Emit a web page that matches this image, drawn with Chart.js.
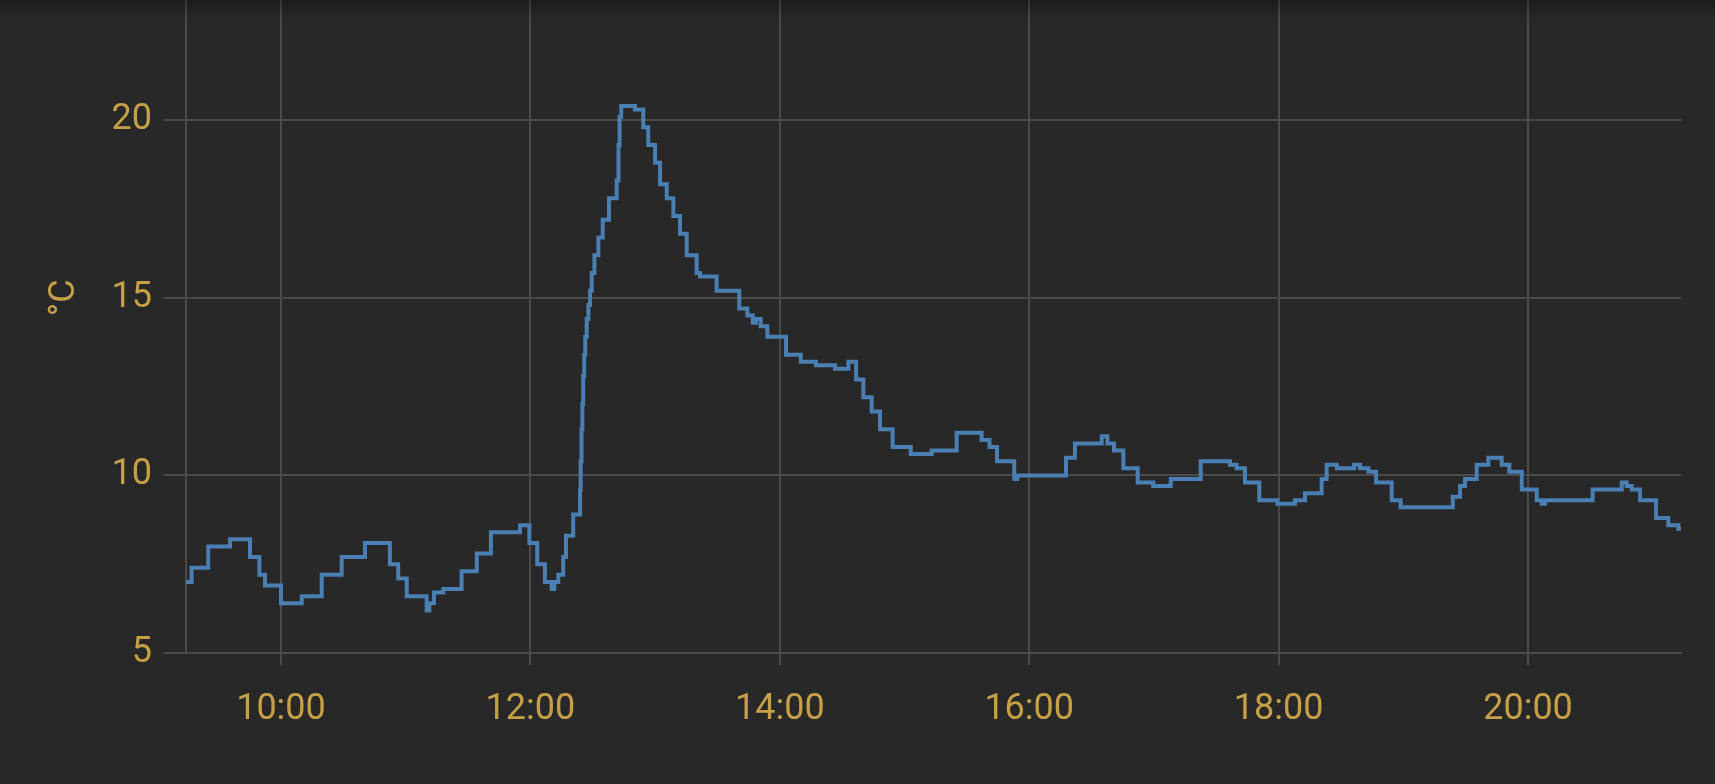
<!DOCTYPE html>
<html>
<head>
<meta charset="utf-8">
<script src="https://cdn.jsdelivr.net/npm/chart.js@4.4.1/dist/chart.umd.min.js"></script>
<style>
html,body{margin:0;padding:0;background:#282828;width:1715px;height:784px;overflow:hidden;}
#wrap{position:absolute;left:0;top:-80px;width:1715px;}
#shade{position:absolute;left:0;top:0;width:1715px;height:18px;background:linear-gradient(rgba(0,0,0,0.3),rgba(0,0,0,0));pointer-events:none;}
</style>
</head>
<body>
<div id="wrap"></div>
<div id="shade"></div>
<script>
// time in minutes since midnight (start of each stepped level)
const times = [554.3,557.0,565.0,575.5,585.1,589.6,592.3,600.0,610.0,619.6,
629.2,640.4,652.4,656.4,660.5,670.1,671.4,673.6,678.1,686.9,
694.2,701.0,715.0,719.5,723.3,727.0,730.2,731.5,733.4,735.8,
737.1,740.6,743.9,744.2,744.6,745.0,745.4,745.9,746.4,747.1,
747.9,748.7,749.5,750.8,752.7,754.8,757.8,761.5,762.4,762.9,
763.7,770.3,774.3,776.7,780.0,782.4,785.6,788.8,792.0,795.2,
800.0,801.6,809.6,820.5,824.4,827.0,828.5,830.8,834.0,843.0,
850.1,857.4,866.6,873.0,876.7,880.2,884.2,888.2,894.3,903.0,
913.1,925.1,937.1,940.9,944.5,952.8,954.3,977.7,982.0,994.9,
997.6,1000.8,1005.3,1012.2,1019.7,1028.1,1042.5,1056.6,1059.8,1063.8,
1070.7,1079.4,1087.9,1092.7,1100.7,1103.1,1108.0,1116.3,1119.2,1123.2,
1126.9,1134.4,1138.7,1163.8,1167.3,1169.7,1175.3,1180.9,1187.3,1191.0,
1197.0,1204.2,1206.6,1208.2,1231.1,1245.1,1247.5,1249.9,1253.9,1261.6,
1267.5,1272.3,1273.6];
// temperature °C
const temps = [7.0,7.4,8.0,8.2,7.7,7.2,6.9,6.4,6.6,7.2,
7.7,8.1,7.5,7.1,6.6,6.2,6.4,6.7,6.8,7.3,
7.8,8.4,8.6,8.1,7.5,7.0,6.8,7.0,7.2,7.7,
8.3,8.9,9.6,10.4,11.3,12.0,12.8,13.4,13.9,14.4,
14.8,15.2,15.7,16.2,16.7,17.2,17.8,18.3,19.3,20.1,
20.4,20.3,19.8,19.3,18.8,18.2,17.8,17.3,16.8,16.2,
15.7,15.6,15.2,14.7,14.5,14.3,14.4,14.2,13.9,13.4,
13.2,13.1,13.0,13.2,12.7,12.2,11.8,11.3,10.8,10.6,
10.7,11.2,11.0,10.8,10.4,9.9,10.0,10.5,10.9,11.1,
10.9,10.7,10.2,9.8,9.7,9.9,10.4,10.3,10.2,9.8,
9.3,9.2,9.3,9.5,9.9,10.3,10.2,10.3,10.2,10.1,
9.8,9.3,9.1,9.4,9.7,9.9,10.3,10.5,10.3,10.1,
9.6,9.3,9.2,9.3,9.6,9.8,9.7,9.6,9.3,8.8,
8.6,8.5,8.5];
const xTicks = [600, 720, 840, 960, 1080, 1200];
const yTicks = [5, 10, 15, 20, 25];
const xRange = [554.3, 1273.6];
const yRange = [5, 25];
const yTitle = '°C';

const TEXT = '#c6a047';
const GRID = '#4b4b4b';
const LINE = '#4a7fb3';
Chart.defaults.font.family = 'Roboto';
Chart.defaults.font.size = 36;
Chart.defaults.color = TEXT;

function fmt(v){ const h = Math.floor(v/60), m = Math.round(v%60); return h + ':' + String(m).padStart(2,'0'); }

function config(){
  return {
    type: 'line',
    data: {
      datasets: [{
        data: times.map((t,i)=>({x:t, y:temps[i]})),
        borderColor: LINE,
        borderWidth: 4,
        pointRadius: 0,
        fill: false,
        stepped: true,
        tension: 0
      }]
    },
    options: {
      responsive: false,
      animation: false,
      events: [],
      layout: { padding: { left: 0, right: 34, top: 0, bottom: 0 } },
      plugins: { legend: { display: false }, tooltip: { enabled: false } },
      scales: {
        x: {
          type: 'linear',
          min: xRange[0], max: xRange[1],
          afterBuildTicks: a => { a.ticks = xTicks.map(v=>({value:v})); },
          afterFit: s => { s.height = 131; },
          grid: { color: GRID, lineWidth: 2, tickLength: 12, drawTicks: true },
          border: { display: true, color: GRID, width: 2 },
          ticks: { color: TEXT, padding: 23, maxRotation: 0, autoSkip: false, callback: v => fmt(v), font: { size: 36 } }
        },
        y: {
          type: 'linear',
          min: yRange[0], max: yRange[1],
          afterBuildTicks: a => { a.ticks = yTicks.map(v=>({value:v})); },
          afterFit: s => { s.width = 186; },
          grid: { color: GRID, lineWidth: 2, tickLength: 22, drawTicks: true },
          border: { display: true, color: GRID, width: 2 },
          ticks: { color: TEXT, padding: 12, font: { size: 36 } },
          title: { display: true, text: yTitle, color: TEXT, font: { size: 36 }, padding: { top: 43, bottom: 0 } }
        }
      }
    }
  };
}

function build(off){
  const wrap = document.getElementById('wrap');
  wrap.style.top = (-off) + 'px';
  const h = Math.round(784 + off);
  wrap.style.height = h + 'px';
  wrap.innerHTML = '<canvas id="c" width="1715" height="' + h + '" style="width:1715px;height:' + h + 'px"></canvas>';
  return new Chart(document.getElementById('c'), config());
}
let chart = build(80);
const need = chart.chartArea.top + 57;
chart.destroy();
chart = build(need);
</script>
</body>
</html>
